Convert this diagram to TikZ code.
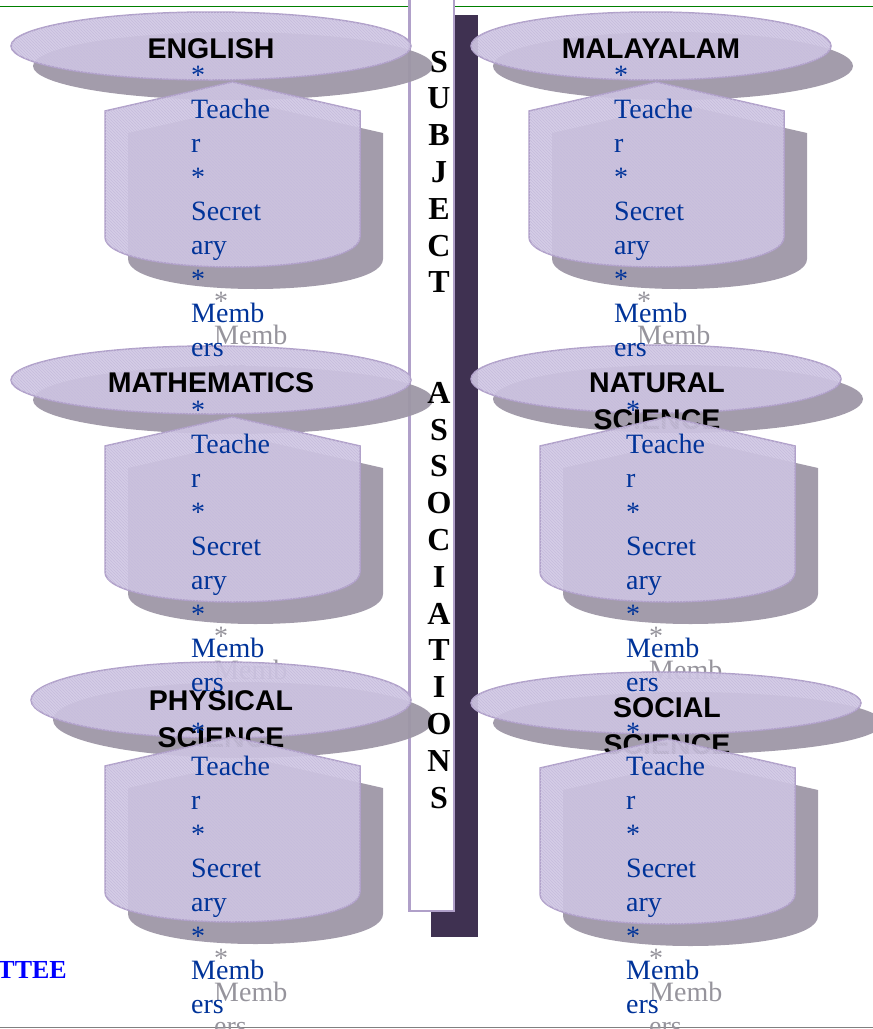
\documentclass[tikz,border=0pt]{standalone}
\usepackage{fontspec}
\setmainfont{Liberation Serif}
\newfontfamily\labelfont{Liberation Sans}
\usetikzlibrary{patterns}

\definecolor{lavlight}{RGB}{234,230,243}
\definecolor{lavmid}{RGB}{208,199,227}
\definecolor{lavedge}{RGB}{176,160,201}
\definecolor{lavhatch}{RGB}{198,188,220}
\definecolor{shadowgray}{RGB}{158,151,166}
\definecolor{barpurple}{RGB}{63,49,81}
\definecolor{textblue}{RGB}{0,51,153}
\definecolor{ghostgray}{RGB}{150,148,156}
\definecolor{rulegreen}{RGB}{0,128,0}

\begin{document}
\begin{tikzpicture}[x=1pt,y=-1pt]
\tikzstyle{shadow}=[fill=shadowgray, fill opacity=0.95]
\tikzstyle{glass}=[draw=lavedge, line width=1.5pt, left color=lavmid, middle color=lavlight, right color=lavmid, shading angle=50, fill opacity=0.9, postaction={pattern=north west lines, pattern color=lavhatch}]
\tikzstyle{bluetext}=[text=textblue, inner sep=0pt, font=\fontsize{28}{34}\selectfont]
\tikzstyle{ghosttext}=[text=ghostgray, inner sep=0pt, font=\fontsize{28}{34}\selectfont]
\tikzstyle{labeltext}=[inner sep=0pt, font=\labelfont\bfseries\fontsize{28.5}{34}\selectfont]
\tikzstyle{vtext}=[inner sep=0pt, font=\bfseries\fontsize{32}{36}\selectfont]
\def\groups{eng/211/46/200/34/211/58/ENGLISH/{}/105/82/191/84,
  mal/651/46/180/34/651/58/MALAYALAM/{}/529/82/614/84,
  mat/211/380/200/34/211/392/MATHEMATICS/{}/105/417/191/419,
  nat/656/379/185/34/657/392/NATURAL/SCIENCE/540/417/626/419,
  phy/221/700/190/38/221/710/PHYSICAL/SCIENCE/105/737/191/741,
  soc/666/703/195/31/667/717/SOCIAL/SCIENCE/540/739/626/741}
\useasboundingbox (0,0) rectangle (873,1029);

% rules, bar and the title box
\draw[rulegreen, line width=1pt] (0,6) -- (873,6);
\draw[gray, line width=1pt] (0,1027) -- (873,1027);
\fill[barpurple] (431,15) rectangle (478,937);
\draw[lavedge, line width=2.5pt, fill=white] (409.5,-5) rectangle (454,911);

% shadows, with the lettering's shadow peeping out below
\foreach \n/\ex/\ey/\erx/\ery/\lx/\ly/\la/\lb/\bl/\ba/\tx/\ty in \groups {
  \foreach \i/\w in {7/*,8/Memb,9/ers}
    \node[ghosttext, anchor=base west] (\n-g\i) at (\tx+23,\ty+34*\i-12) {\w};
  \fill[shadow] (\ex+22,\ey+20) ellipse [x radius=\erx, y radius=\ery];
  \fill[shadow, shift={(23,22)}] (\bl,\ba+29) -- (\bl+127.5,\ba) -- (\bl+255,\ba+29) -- (\bl+255,\ba+155)
    .. controls (\bl+255,\ba+195) and (\bl,\ba+195) .. (\bl,\ba+155) -- cycle;
}

% the discs with their names
\foreach \n/\ex/\ey/\erx/\ery/\lx/\ly/\la/\lb/\bl/\ba/\tx/\ty in \groups {
  \path[glass] (\ex,\ey) ellipse [x radius=\erx, y radius=\ery];
  \node[labeltext, anchor=base] (\n-l1) at (\lx,\ly) {\la};
  \node[labeltext, anchor=base] (\n-l2) at (\lx,\ly+37.5) {\lb};
}

% the drums
\foreach \n/\ex/\ey/\erx/\ery/\lx/\ly/\la/\lb/\bl/\ba/\tx/\ty in \groups {
  \path[glass] (\bl,\ba+29) -- (\bl+127.5,\ba) -- (\bl+255,\ba+29) -- (\bl+255,\ba+155)
    .. controls (\bl+255,\ba+195) and (\bl,\ba+195) .. (\bl,\ba+155) -- cycle;
}

% office bearers
\foreach \n/\ex/\ey/\erx/\ery/\lx/\ly/\la/\lb/\bl/\ba/\tx/\ty in \groups {
  \foreach \w [count=\i] in {*,Teache,r,*,Secret,ary,*,Memb,ers}
    \node[bluetext, anchor=base west] (\n-t\i) at (\tx,\ty+34*\i-34) {\w};
}

% vertical title
\foreach \c [count=\i] in {S,U,B,J,E,C,T,{},{},A,S,S,O,C,I,A,T,I,O,N,S}
  \node[vtext, anchor=base] (sub-\i) at (439,72+36.8*\i-36.8) {\c};

\node[anchor=base east, inner sep=0pt, text=blue, font=\bfseries\fontsize{26}{30}\selectfont] (ttee) at (67,978) {TTEE};
\end{tikzpicture}
\end{document}
